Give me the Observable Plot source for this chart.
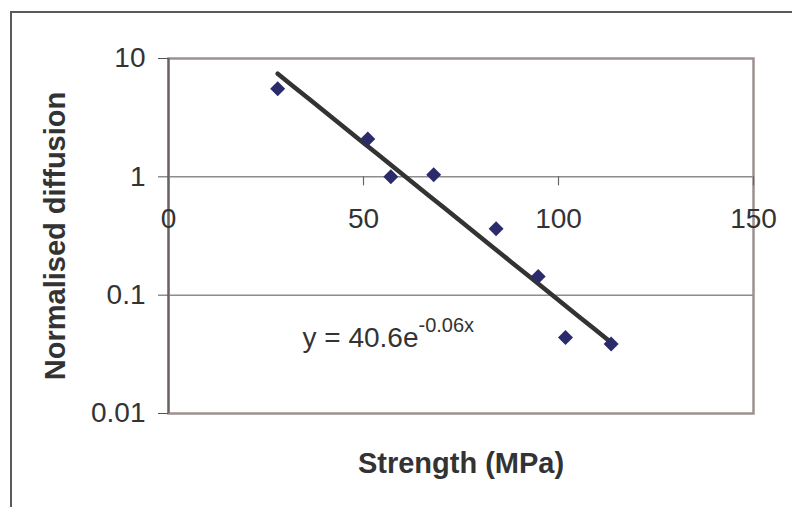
<!DOCTYPE html>
<html>
<head>
<meta charset="utf-8">
<script src="https://cdn.jsdelivr.net/npm/d3@7"></script>
<script src="https://cdn.jsdelivr.net/npm/@observablehq/plot@0.6"></script>
<style>
  html, body { margin: 0; padding: 0; background: #fff; }
  #wrap { position: relative; width: 792px; height: 507px; overflow: hidden; }
  #outer { position: absolute; left: 10px; top: 11px; width: 900px; height: 700px;
           border-top: 2px solid #5a5a5a; border-left: 2px solid #5a5a5a; pointer-events: none; }
</style>
</head>
<body>
<div id="wrap"><div id="outer"></div></div>
<script>
// ---- data ----
const strength  = [28, 51.1, 57.0, 68.0, 84.0, 94.8, 101.8, 113.5];
const diffusion = [5.54, 2.09, 1.0, 1.04, 0.364, 0.144, 0.0438, 0.0387];

const xTicks = [0, 50, 100, 150];
const xTickLabels = ["0", "50", "100", "150"];
const yTicks = [10, 1, 0.1, 0.01];
const yTickLabels = ["10", "1", "0.1", "0.01"];

const xTitle = "Strength (MPa)";
const yTitle = "Normalised diffusion";
const eqMain = "y = 40.6e";
const eqSup = "-0.06x";

// ---- exponential trendline (least squares on ln y) ----
const points = strength.map((x, i) => ({x, y: diffusion[i]}));
const mx = d3.mean(points, d => d.x);
const my = d3.mean(points, d => Math.log(d.y));
const sxy = d3.sum(points, d => (d.x - mx) * (Math.log(d.y) - my));
const sxx = d3.sum(points, d => (d.x - mx) ** 2);
const b = sxy / sxx;
const lnA = my - b * mx;
const [x0, x1] = d3.extent(strength);
const fit = d3.range(21).map(i => {
  const x = x0 + (x1 - x0) * i / 20;
  return {x, y: Math.exp(lnA + b * x)};
});

const chart = Plot.plot({
  width: 792,
  height: 507,
  marginLeft: 168,
  marginRight: 39,
  marginTop: 58,
  marginBottom: 94,
  style: {fontFamily: "'Liberation Sans', Arial, sans-serif", color: "#333", background: "transparent", overflow: "visible"},
  x: {domain: [0, 150], axis: null},
  y: {type: "log", domain: [0.01, 10]},
  marks: [
    Plot.ruleY([1, 0.1], {stroke: "#8c8c8c", strokeWidth: 1.5}),
    Plot.frame({stroke: "#9d9090", strokeWidth: 2.5}),
    Plot.ruleX([0], {stroke: "#6a6161", strokeWidth: 2}),
    Plot.axisY(yTicks, {
      tickSize: 10, tickPadding: 13, fontSize: 28, color: "#333", stroke: "#555",
      tickFormat: d => yTickLabels[yTicks.indexOf(d)], label: null
    }),
    Plot.ruleX(xTicks, {x: d => d, y1: () => 1, y2: () => 1, insetBottom: -9, stroke: "#666", strokeWidth: 1.2}),
    Plot.text(xTicks, {x: d => d, y: () => 1, text: d => xTickLabels[xTicks.indexOf(d)], dy: 42, fontSize: 28, fill: "#333"}),
    Plot.line(fit, {x: "x", y: "y", stroke: "#333333", strokeWidth: 4.5}),
    Plot.dot(points, {x: "x", y: "y", symbol: "diamond2", r: 6.75, fill: "#2b2b6b", stroke: "none"}),
    Plot.text([eqMain], {frameAnchor: "top-left", dx: 134, dy: 280, textAnchor: "start", lineAnchor: "middle", fontSize: 28, fill: "#333"}),
    Plot.text([xTitle], {frameAnchor: "bottom", dy: 50, lineAnchor: "middle", textAnchor: "middle", fontSize: 29, fontWeight: "bold", fill: "#333"}),
    Plot.text([yTitle], {frameAnchor: "left", dx: -113, rotate: -90, textAnchor: "middle", lineAnchor: "middle", fontSize: 29, fontWeight: "bold", fill: "#333"})
  ]
});

// superscript for the trendline equation
d3.select(chart).selectAll("text")
  .filter(function () { return this.textContent === eqMain; })
  .append("tspan")
  .attr("dy", "-15")
  .attr("font-size", 20)
  .text(eqSup);

document.getElementById("wrap").prepend(chart);
</script>
</body>
</html>
